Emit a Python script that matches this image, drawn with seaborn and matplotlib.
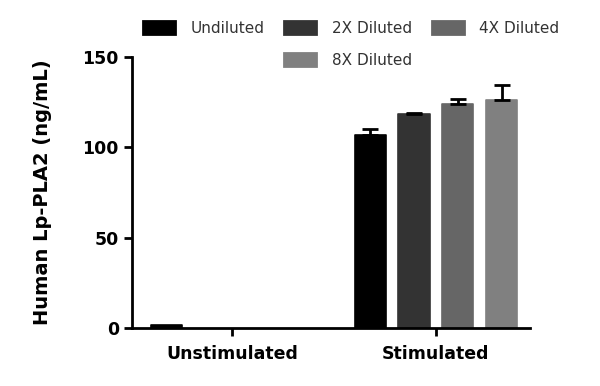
import numpy as np
import pandas as pd
import seaborn as sns
import matplotlib.pyplot as plt
from matplotlib.patches import Rectangle

conditions = ['Unstimulated', 'Stimulated']
dilutions = ['Undiluted', '2X Diluted', '4X Diluted', '8X Diluted']
unstim_vals = [1.5, np.nan, np.nan, np.nan]
stim_vals = [107.0, 118.3, 124.2, 126.5]
stim_err = [3.3, 0.9, 2.5, 8.0]
unstim_err = [0.0, np.nan, np.nan, np.nan]
colors = ['#000000', '#333333', '#666666', '#808080']

rows = []
for cond, vals, errs in [('Unstimulated', unstim_vals, unstim_err), ('Stimulated', stim_vals, stim_err)]:
    for d, v, e in zip(dilutions, vals, errs):
        rows.append({'Condition': cond, 'Dilution': d, 'Value': v, 'Err': e})
df = pd.DataFrame(rows)

sns.set_style('ticks')
plt.rcParams['font.family'] = ['DejaVu Sans']
plt.rcParams['text.color'] = 'black'
plt.rcParams['axes.labelcolor'] = 'black'
plt.rcParams['xtick.color'] = 'black'
plt.rcParams['ytick.color'] = 'black'

fig = plt.figure(figsize=(6, 3.86), dpi=100)
ax = fig.add_axes([0.22, 0.15, 0.663, 0.702])

sns.barplot(data=df, x='Condition', y='Value', hue='Dilution', order=conditions,
            hue_order=dilutions, palette=colors, width=0.86, gap=0.29,
            errorbar=None, ax=ax, legend=False)

# one-sided error bars, placed on the drawn bars
for cont, d in zip(ax.containers, dilutions):
    sub = df[df['Dilution'] == d].set_index('Condition').loc[conditions].dropna(subset=['Value'])
    for patch, (_, r) in zip(cont.patches, sub.iterrows()):
        patch.set_edgecolor(patch.get_facecolor())
        patch.set_linewidth(1.2)
        patch.set_joinstyle('round')
        if r['Err'] <= 0:
            continue
        cx = patch.get_x() + patch.get_width() / 2
        ax.errorbar(cx, r['Value'], yerr=[[0], [r['Err']]], fmt='none',
                    ecolor='black', elinewidth=2, capsize=5.5, capthick=2)

ax.set_ylim(0, 150)
ax.set_yticks([0, 50, 100, 150])
ax.set_xlim(-0.49, 1.46)
ax.set_xlabel('')
ax.set_ylabel('Human Lp-PLA2 (ng/mL)', fontsize=14, fontweight='bold', labelpad=22)
for lab in ax.get_xticklabels() + ax.get_yticklabels():
    lab.set_fontweight('bold')
    lab.set_fontsize(12.5)
ax.tick_params(axis='both', width=2, length=6, color='black')
ax.tick_params(axis='x', pad=6)
for s in ['left', 'bottom']:
    ax.spines[s].set_linewidth(2)
    ax.spines[s].set_color('black')
sns.despine(ax=ax)

# legend: row-major order, 8X under 2X
handles = [Rectangle((0, 0), 1, 1, facecolor=c, edgecolor=c, lw=2, joinstyle='round') for c in colors]
blank = Rectangle((0, 0), 1, 1, alpha=0)
order_h = [handles[0], blank, handles[1], handles[3], handles[2], blank]
order_l = [dilutions[0], '', dilutions[1], dilutions[3], dilutions[2], '']
leg = fig.legend(order_h, order_l, loc='upper left', bbox_to_anchor=(143 / 600, 1 - 21 / 386),
                 ncol=3, frameon=False, fontsize=11, handlelength=2.1, handleheight=0.9,
                 handletextpad=1.0, columnspacing=1.3, labelspacing=1.1,
                 borderpad=0, borderaxespad=0)
for t in leg.get_texts():
    t.set_color('#333333')

fig.savefig('out.png', dpi=100)
